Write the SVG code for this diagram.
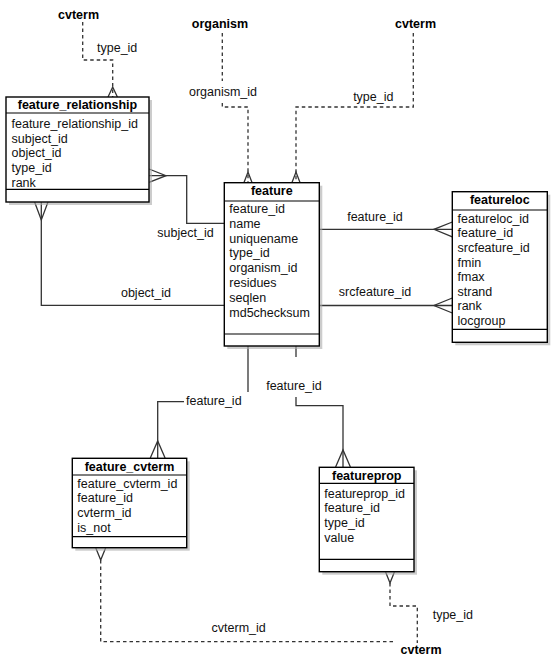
<svg xmlns="http://www.w3.org/2000/svg" width="555" height="661" viewBox="0 0 555 661">
<style>
text{font-family:"Liberation Sans",Arial,sans-serif;font-size:12.5px;fill:#111}
.t{font-weight:bold;text-anchor:middle;fill:#000}
.c{text-anchor:middle}
.box{fill:#fff;stroke:#000;stroke-width:1.4}
.sh{fill:#aaa;opacity:0.6}
.div{stroke:#000;stroke-width:1.2}
.ln{fill:none;stroke:#333;stroke-width:1.3}
.ds{fill:none;stroke:#333;stroke-width:1.3;stroke-dasharray:3.5,3}
</style>
<rect width="555" height="661" fill="#fff"/>
<g id="connectors">
  <path class="ds" d="M82.7,22 V60 H112.7 V97"/>
  <path class="ln" d="M108,97 L112.7,87 L117.4,97"/>
  <text x="97" y="52">type_id</text>
  <path class="ds" d="M222.3,33 V81"/>
  <path class="ds" d="M222.3,103 V107 H248 V183"/>
  <path class="ln" d="M243.8,183 L248,172 L252.2,183"/>
  <text class="c" x="223" y="96">organism_id</text>
  <path class="ds" d="M413.3,33 V107 H296 V183"/>
  <path class="ln" d="M291.8,183 L296,172 L300.2,183"/>
  <text class="c" x="373.3" y="101">type_id</text>
  <path class="ln" d="M149,175.7 H186.7 V223.3 H224.3"/>
  <path class="ln" d="M149,169 L166,175.7 L149,182.4"/>
  <text class="c" x="185.5" y="237">subject_id</text>
  <path class="ln" d="M224.3,305.3 H41.3 V202"/>
  <path class="ln" d="M34.6,202 L41.3,220 L48,202"/>
  <text class="c" x="146" y="297">object_id</text>
  <path class="ln" d="M319.3,229.3 H452.3"/>
  <path class="ln" d="M452.3,222 L434,229.3 L452.3,236.8"/>
  <text class="c" x="375" y="220.5">feature_id</text>
  <path class="ln" d="M319.3,305.5 H452.3"/>
  <path class="ln" d="M452.3,298 L434,305.5 L452.3,313"/>
  <text class="c" x="375" y="296">srcfeature_id</text>
  <path class="ln" d="M248,346 V392"/>
  <path class="ln" d="M184,401.7 H157.7 V458"/>
  <path class="ln" d="M150.3,458 L157.7,441 L165.1,458"/>
  <text x="186" y="404.5">feature_id</text>
  <path class="ln" d="M296,346 V357"/>
  <path class="ln" d="M296,397 V405.7 H343 V467"/>
  <path class="ln" d="M335.6,467 L343,450 L350.4,467"/>
  <text class="c" x="294" y="389.5">feature_id</text>
  <path class="ds" d="M100.7,560 V641.7 H395"/>
  <path class="ln" d="M95.8,548 L100.7,560 L105.6,548"/>
  <text class="c" x="238.7" y="631.5">cvterm_id</text>
  <path class="ds" d="M390,583 V606 H417.3 V643"/>
  <path class="ln" d="M385.6,572 L390,583 L394.4,572"/>
  <text x="432.7" y="618.5">type_id</text>
</g>
<g id="cvterm_top_left"><text class="t" x="78.5" y="18.5">cvterm</text></g>
<g id="organism"><text class="t" x="220" y="27.5">organism</text></g>
<g id="cvterm_top_right"><text class="t" x="415.5" y="27.5">cvterm</text></g>
<g id="cvterm_bottom"><text class="t" x="421" y="653.5">cvterm</text></g>
<g id="feature_relationship">
  <rect class="sh" x="9" y="100" width="143" height="105"/>
  <rect class="box" x="6" y="97" width="143" height="105"/>
  <line class="div" x1="6" y1="113" x2="149" y2="113"/>
  <line class="div" x1="6" y1="189.3" x2="149" y2="189.3"/>
  <text class="t" x="77.5" y="109">feature_relationship</text>
  <text x="11.5" y="128">feature_relationship_id</text>
  <text x="11.5" y="142.7">subject_id</text>
  <text x="11.5" y="157.4">object_id</text>
  <text x="11.5" y="172.1">type_id</text>
  <text x="11.5" y="186.8">rank</text>
</g>
<g id="feature">
  <rect class="sh" x="227.3" y="185.7" width="95" height="163.3"/>
  <rect class="box" x="224.3" y="182.7" width="95" height="163.3"/>
  <line class="div" x1="224.3" y1="201" x2="319.3" y2="201"/>
  <line class="div" x1="224.3" y1="334" x2="319.3" y2="334"/>
  <text class="t" x="271.8" y="194.5">feature</text>
  <text x="229.3" y="213">feature_id</text>
  <text x="229.3" y="227.8">name</text>
  <text x="229.3" y="242.6">uniquename</text>
  <text x="229.3" y="257.4">type_id</text>
  <text x="229.3" y="272.2">organism_id</text>
  <text x="229.3" y="287">residues</text>
  <text x="229.3" y="301.8">seqlen</text>
  <text x="229.3" y="316.6">md5checksum</text>
</g>
<g id="featureloc">
  <rect class="sh" x="455.3" y="194.7" width="95" height="150.6"/>
  <rect class="box" x="452.3" y="191.7" width="95" height="150.6"/>
  <line class="div" x1="452.3" y1="210" x2="547.3" y2="210"/>
  <line class="div" x1="452.3" y1="329.3" x2="547.3" y2="329.3"/>
  <text class="t" x="499.8" y="204">featureloc</text>
  <text x="457.5" y="222.8">featureloc_id</text>
  <text x="457.5" y="237.4">feature_id</text>
  <text x="457.5" y="252">srcfeature_id</text>
  <text x="457.5" y="266.6">fmin</text>
  <text x="457.5" y="281.2">fmax</text>
  <text x="457.5" y="295.8">strand</text>
  <text x="457.5" y="310.4">rank</text>
  <text x="457.5" y="325">locgroup</text>
</g>
<g id="feature_cvterm">
  <rect class="sh" x="75.3" y="461.3" width="114.4" height="89.4"/>
  <rect class="box" x="72.3" y="458.3" width="114.4" height="89.4"/>
  <line class="div" x1="72.3" y1="475" x2="186.7" y2="475"/>
  <line class="div" x1="72.3" y1="536.7" x2="186.7" y2="536.7"/>
  <text class="t" x="129.5" y="470.5">feature_cvterm</text>
  <text x="77.3" y="487.5">feature_cvterm_id</text>
  <text x="77.3" y="502.4">feature_id</text>
  <text x="77.3" y="517.3">cvterm_id</text>
  <text x="77.3" y="532.2">is_not</text>
</g>
<g id="featureprop">
  <rect class="sh" x="322.3" y="470.3" width="94.7" height="104.4"/>
  <rect class="box" x="319.3" y="467.3" width="94.7" height="104.4"/>
  <line class="div" x1="319.3" y1="483.3" x2="414" y2="483.3"/>
  <line class="div" x1="319.3" y1="559.3" x2="414" y2="559.3" stroke="#555"/>
  <text class="t" x="366.7" y="479.5">featureprop</text>
  <text x="324.3" y="497.5">featureprop_id</text>
  <text x="324.3" y="512.2">feature_id</text>
  <text x="324.3" y="526.9">type_id</text>
  <text x="324.3" y="541.6">value</text>
</g>
</svg>
